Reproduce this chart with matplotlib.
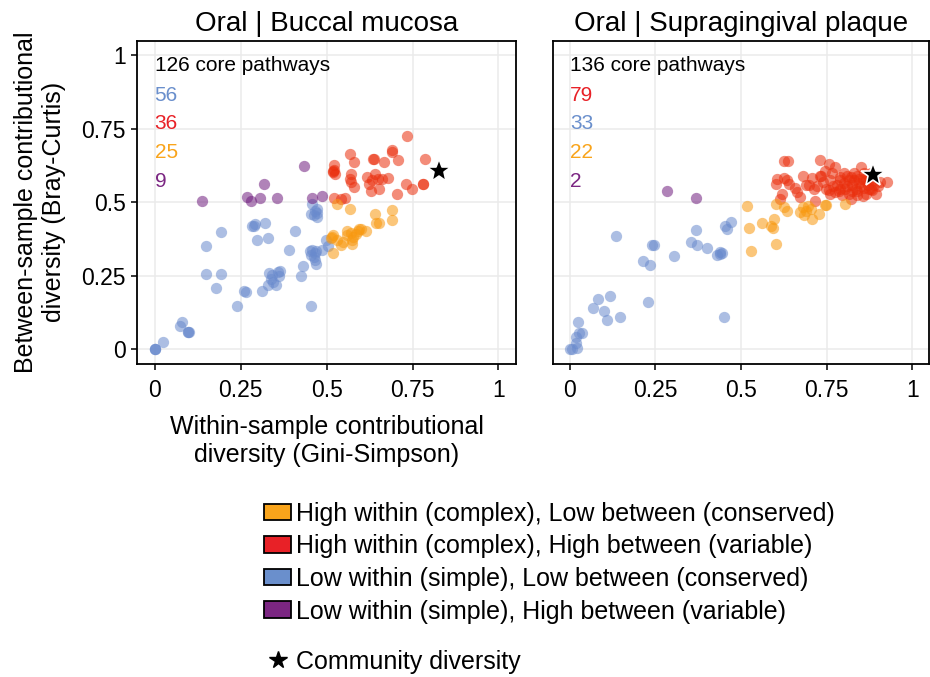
import matplotlib
matplotlib.use('Agg')
import matplotlib.pyplot as plt
from matplotlib.patches import Patch
from matplotlib.lines import Line2D

plt.rcParams['font.family'] = ['Liberation Sans', 'DejaVu Sans']

# group colours (legend / count text) and point colours
GROUP_COLORS = {
    "hl": "#F9A41B",   # high within, low between
    "hh": "#E82127",   # high within, high between
    "ll": "#6A8FCC",   # low within, low between
    "lh": "#7B2682",   # low within, high between
}
POINT_COLORS = {
    "hl": "#F8980E",
    "hh": "#EA2E0C",
    "ll": "#698ACD",
    "lh": "#701E7F",
}
LEGEND_LABELS = {
    "hl": "High within (complex), Low between (conserved)",
    "hh": "High within (complex), High between (variable)",
    "ll": "Low within (simple), Low between (conserved)",
    "lh": "Low within (simple), High between (variable)",
}

# ---- Buccal mucosa: (within, between) per pathway ----
buccal_ll = [(0.0, 0.0), (0.002, 0.0), (0.0, 0.0), (0.024, 0.025), (0.073, 0.081), (0.079, 0.092),
             (0.096, 0.059), (0.098, 0.059), (0.1, 0.06), (0.15, 0.256), (0.15, 0.353), (0.178, 0.209),
             (0.194, 0.40), (0.194, 0.256), (0.239, 0.149), (0.261, 0.2), (0.266, 0.194),
             (0.282, 0.419), (0.288, 0.42), (0.293, 0.426), (0.298, 0.371), (0.311, 0.2),
             (0.322, 0.431), (0.329, 0.378), (0.329, 0.218), (0.334, 0.259), (0.338, 0.24),
             (0.341, 0.254), (0.345, 0.23), (0.352, 0.22), (0.36, 0.262), (0.362, 0.25),
             (0.365, 0.265), (0.392, 0.338), (0.409, 0.404), (0.426, 0.25), (0.431, 0.284),
             (0.453, 0.334), (0.455, 0.32), (0.459, 0.338), (0.462, 0.315), (0.466, 0.304),
             (0.466, 0.327), (0.468, 0.29), (0.47, 0.335), (0.456, 0.149), (0.459, 0.496),
             (0.471, 0.479), (0.463, 0.457), (0.455, 0.46), (0.466, 0.47), (0.471, 0.463),
             (0.471, 0.451), (0.486, 0.338), (0.498, 0.372), (0.505, 0.35)]
buccal_hh = [(0.735, 0.727), (0.568, 0.665), (0.579, 0.637), (0.635, 0.646), (0.637, 0.646),
             (0.689, 0.677), (0.691, 0.671), (0.667, 0.637), (0.708, 0.643), (0.787, 0.646),
             (0.522, 0.626), (0.519, 0.605), (0.524, 0.597), (0.52, 0.603), (0.521, 0.61),
             (0.57, 0.597), (0.568, 0.581), (0.571, 0.569), (0.58, 0.552), (0.619, 0.586),
             (0.64, 0.597), (0.624, 0.563), (0.65, 0.581), (0.63, 0.539), (0.653, 0.547),
             (0.679, 0.584), (0.66, 0.58), (0.732, 0.564), (0.749, 0.545), (0.78, 0.564),
             (0.781, 0.564), (0.706, 0.528), (0.521, 0.516), (0.553, 0.516), (0.543, 0.51),
             (0.632, 0.575)]
buccal_hl = [(0.529, 0.496), (0.568, 0.476), (0.642, 0.46), (0.645, 0.431), (0.653, 0.429),
             (0.689, 0.474), (0.691, 0.44), (0.519, 0.389), (0.515, 0.381), (0.558, 0.404),
             (0.572, 0.395), (0.577, 0.381), (0.595, 0.411), (0.592, 0.404), (0.614, 0.401),
             (0.587, 0.393), (0.542, 0.355), (0.548, 0.364), (0.575, 0.359), (0.573, 0.372),
             (0.519, 0.327), (0.529, 0.372), (0.512, 0.38), (0.56, 0.39), (0.6, 0.41)]
buccal_lh = [(0.137, 0.503), (0.268, 0.519), (0.279, 0.503), (0.307, 0.515), (0.317, 0.561),
             (0.355, 0.515), (0.434, 0.622), (0.459, 0.515), (0.488, 0.522)]
buccal_star = (0.827, 0.605)

# ---- Supragingival plaque ----
plaque_ll = [(0.0, 0.0), (0.005, 0.0), (0.02, 0.005), (0.017, 0.02), (0.019, 0.042), (0.026, 0.056),
             (0.036, 0.054), (0.024, 0.094), (0.068, 0.141), (0.081, 0.171), (0.118, 0.18),
             (0.101, 0.13), (0.109, 0.099), (0.147, 0.11), (0.135, 0.386), (0.215, 0.301),
             (0.233, 0.287), (0.228, 0.16), (0.241, 0.356), (0.246, 0.356), (0.304, 0.316),
             (0.353, 0.364), (0.372, 0.356), (0.368, 0.406), (0.402, 0.345), (0.43, 0.321),
             (0.438, 0.33), (0.445, 0.327), (0.44, 0.325), (0.451, 0.11), (0.454, 0.42),
             (0.46, 0.408), (0.472, 0.434)]
plaque_hh = [(0.625, 0.640), (0.638, 0.640), (0.732, 0.643), (0.758, 0.631), (0.775, 0.620),
             (0.605, 0.581), (0.625, 0.584), (0.601, 0.561), (0.641, 0.561), (0.619, 0.528),
             (0.614, 0.510), (0.663, 0.536), (0.672, 0.519), (0.657, 0.550), (0.707, 0.584),
             (0.731, 0.588), (0.721, 0.556), (0.712, 0.547), (0.748, 0.547), (0.760, 0.528),
             (0.757, 0.541), (0.717, 0.505), (0.741, 0.570), (0.700, 0.560), (0.780, 0.560),
             (0.790, 0.575), (0.800, 0.565), (0.810, 0.555), (0.820, 0.585), (0.830, 0.575),
             (0.840, 0.590), (0.785, 0.540), (0.795, 0.525), (0.805, 0.545), (0.815, 0.530),
             (0.825, 0.560), (0.835, 0.545), (0.845, 0.565), (0.850, 0.620), (0.855, 0.580),
             (0.860, 0.550), (0.865, 0.530), (0.870, 0.560), (0.875, 0.575), (0.880, 0.545),
             (0.884, 0.541), (0.890, 0.560), (0.895, 0.530), (0.900, 0.555), (0.905, 0.570),
             (0.927, 0.569), (0.770, 0.555), (0.775, 0.535), (0.790, 0.585), (0.810, 0.590),
             (0.825, 0.540), (0.840, 0.525), (0.850, 0.555), (0.860, 0.600), (0.870, 0.590),
             (0.765, 0.600), (0.745, 0.605), (0.735, 0.590), (0.690, 0.560), (0.680, 0.590),
             (0.820, 0.510), (0.840, 0.540), (0.855, 0.520), (0.800, 0.600), (0.815, 0.575),
             (0.830, 0.600), (0.790, 0.545), (0.760, 0.575), (0.875, 0.545), (0.865, 0.575),
             (0.845, 0.580), (0.880, 0.600), (0.890, 0.575), (0.635, 0.575)]
plaque_hl = [(0.517, 0.488), (0.523, 0.412), (0.53, 0.333), (0.562, 0.431), (0.588, 0.419),
             (0.593, 0.412), (0.596, 0.445), (0.601, 0.359), (0.601, 0.493), (0.627, 0.485),
             (0.634, 0.471), (0.671, 0.468), (0.68, 0.485), (0.695, 0.487), (0.704, 0.476),
             (0.707, 0.445), (0.727, 0.462), (0.685, 0.457), (0.746, 0.49), (0.748, 0.49),
             (0.804, 0.496), (0.69, 0.47)]
plaque_lh = [(0.285, 0.539), (0.37, 0.516)]
plaque_star = (0.887, 0.594)

PANELS = [
    ("Oral | Buccal mucosa", {"ll": buccal_ll, "hh": buccal_hh, "hl": buccal_hl, "lh": buccal_lh},
     buccal_star),
    ("Oral | Supragingival plaque", {"hh": plaque_hh, "ll": plaque_ll, "hl": plaque_hl, "lh": plaque_lh},
     plaque_star),
]

fig = plt.figure(figsize=(9.3, 6.77), dpi=100)
ax_left = fig.add_axes([0.1478, 0.4623, 0.4067, 0.4776])
ax_right = fig.add_axes([0.5943, 0.4623, 0.4049, 0.4776])

ticks = [0, 0.25, 0.5, 0.75, 1]
tick_labels = ["0", "0.25", "0.5", "0.75", "1"]

for ax, (title, groups, star) in zip([ax_left, ax_right], PANELS):
    ax.set_xlim(-0.05, 1.05)
    ax.set_ylim(-0.05, 1.05)
    ax.set_xticks(ticks)
    ax.set_xticklabels(tick_labels)
    ax.set_yticks(ticks)
    ax.set_yticklabels(tick_labels)
    ax.grid(True, color="#EBEBEB", linewidth=1.1)
    ax.set_axisbelow(True)
    for sp in ax.spines.values():
        sp.set_linewidth(1.3)
        sp.set_color("black")
    ax.tick_params(length=4.5, width=1.1, labelsize=16.5, pad=4)
    ax.tick_params(axis="x", pad=6)
    ax.set_title(title, fontsize=20, pad=7)

    for key, pts in groups.items():
        xs = [p[0] for p in pts]
        ys = [p[1] for p in pts]
        ax.scatter(xs, ys, s=66, color=POINT_COLORS[key], alpha=0.55, linewidths=0, zorder=3)

    ax.plot([star[0]], [star[1]], marker="*", ms=18, color="black", mec="white", mew=1.2,
            linestyle="none", zorder=5)

    # counts annotation
    total = sum(len(p) for p in groups.values())
    ax.text(0, 0.966, f"{total} core pathways", fontsize=15, va="center", ha="left", zorder=6)
    for i, (key, pts) in enumerate(groups.items()):
        ax.text(0, 0.865 - 0.098 * i, str(len(pts)), fontsize=15, va="center", ha="left",
                color=GROUP_COLORS[key], zorder=6)

ax_right.tick_params(axis="y", left=False, labelleft=False)

ax_left.set_ylabel("Between-sample contributional\ndiversity (Bray-Curtis)", fontsize=18, labelpad=11)
ax_left.set_xlabel("Within-sample contributional\ndiversity (Gini-Simpson)", fontsize=18, labelpad=10)

# legend
order = ["hl", "hh", "ll", "lh"]
handles = [Patch(facecolor=GROUP_COLORS[k], edgecolor="black", linewidth=1.3) for k in order]
fig.legend(handles, [LEGEND_LABELS[k] for k in order], loc="upper left",
           bbox_to_anchor=(264 / 930, 1 - 502 / 677), frameon=False, fontsize=18,
           handlelength=1.08, handleheight=0.64, handletextpad=0.2, labelspacing=0.34,
           borderpad=0, borderaxespad=0)
star_handle = Line2D([], [], marker="*", color="black", ms=13, linestyle="none")
fig.legend([star_handle], ["Community diversity"], loc="upper left",
           bbox_to_anchor=(264 / 930, 1 - 650 / 677), frameon=False, fontsize=18,
           handlelength=1.08, handletextpad=0.2, borderpad=0, borderaxespad=0)

fig.savefig("out.png", dpi=100)
plt.close(fig)
